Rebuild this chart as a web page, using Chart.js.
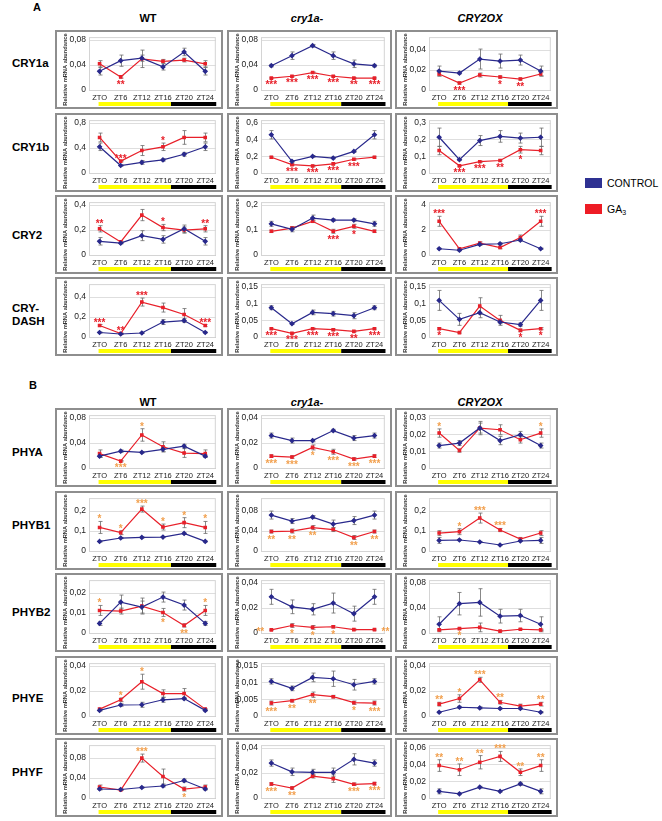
<!DOCTYPE html>
<html>
<head>
<meta charset="utf-8">
<script src="https://cdn.jsdelivr.net/npm/chart.js@4.4.0/dist/chart.umd.min.js"></script>
<style>
  body { margin: 0; background: #fff; font-family: "Liberation Sans", Arial, sans-serif; }
  #fig { position: relative; width: 662px; height: 821px; overflow: hidden; }
  .t { position: absolute; font-weight: bold; color: #000; white-space: nowrap; line-height: 1; }
  .box { position: absolute; border: 2px solid #8e8e8e; box-sizing: border-box; background: #fff; }
  .box canvas { position: absolute; left: 0; top: 0; }
  .sq { position: absolute; width: 17px; height: 10px; }
</style>
</head>
<body>
<div id="fig"></div>
<script>
const zt = ['ZTO', 'ZT6', 'ZT12', 'ZT16', 'ZT20', 'ZT24'];
const genotypes = ['WT', 'cry1a-', 'CRY2OX'];

// each array below: [WT, cry1a-, CRY2OX]
const cry1aMax = [0.08, 0.08, 0.05];
const cry1aStep = [0.02, 0.02, 0.01];
const cry1aControl = [[0.03, 0.047, 0.051, 0.037, 0.061, 0.03], [0.039, 0.055, 0.071, 0.055, 0.042, 0.039], [0.019, 0.017, 0.031, 0.029, 0.03, 0.019]];
const cry1aControlErr = [[0.006, 0.009, 0.005, 0.005, 0.006, 0.006], [0.002, 0.006, 0.002, 0.006, 0.006, 0.002], [0.005, 0.001, 0.01, 0.007, 0.005, 0.005]];
const cry1aGa3 = [[0.042, 0.021, 0.05, 0.046, 0.048, 0.042], [0.019, 0.022, 0.028, 0.022, 0.019, 0.019], [0.016, 0.007, 0.015, 0.013, 0.011, 0.016]];
const cry1aGa3Err = [[0.005, 0.002, 0.014, 0.003, 0.003, 0.005], [0.001, 0.001, 0.001, 0.001, 0.001, 0.001], [0.002, 0.001, 0.002, 0.001, 0.001, 0.002]];
const cry1aStars = [['', 'v**', '', '', '', ''], ['v***', 'v***', 'v***', 'v***', 'v**', 'v***'], ['', 'v***', '', 'v*', 'v**', '']];

const cry1bMax = [0.8, 0.6, 0.3];
const cry1bStep = [0.2, 0.2, 0.1];
const cry1bControl = [[0.42, 0.12, 0.17, 0.21, 0.3, 0.42], [0.46, 0.14, 0.2, 0.18, 0.26, 0.46], [0.215, 0.08, 0.195, 0.22, 0.21, 0.215]];
const cry1bControlErr = [[0.06, 0.01, 0.03, 0.02, 0.03, 0.06], [0.05, 0.01, 0.01, 0.01, 0.01, 0.05], [0.055, 0.005, 0.03, 0.035, 0.03, 0.055]];
const cry1bGa3 = [[0.57, 0.19, 0.36, 0.42, 0.57, 0.57], [0.19, 0.1, 0.085, 0.11, 0.165, 0.19], [0.135, 0.043, 0.068, 0.075, 0.14, 0.135]];
const cry1bGa3Err = [[0.07, 0.01, 0.08, 0.06, 0.11, 0.07], [0.01, 0.01, 0.01, 0.01, 0.01, 0.01], [0.025, 0.004, 0.004, 0.004, 0.02, 0.025]];
const cry1bStars = [['', '^***', '', '^*', '', ''], ['', 'v***', 'v***', 'v***', 'v***', ''], ['', 'v***', 'v***', 'v**', 'v*', '']];

const cry2Max = [0.4, 0.2, 4];
const cry2Step = [0.1, 0.05, 1];
const cry2Control = [[0.11, 0.095, 0.155, 0.125, 0.21, 0.11], [0.125, 0.103, 0.148, 0.14, 0.14, 0.125], [0.5, 0.38, 0.85, 0.9, 1.2, 0.5]];
const cry2ControlErr = [[0.03, 0.005, 0.04, 0.03, 0.03, 0.03], [0.01, 0.01, 0.012, 0.005, 0.005, 0.01], [0.05, 0.05, 0.08, 0.08, 0.1, 0.05]];
const cry2Ga3 = [[0.21, 0.105, 0.32, 0.22, 0.2, 0.21], [0.095, 0.108, 0.135, 0.095, 0.115, 0.095], [2.7, 0.5, 0.95, 0.6, 1.4, 2.7]];
const cry2Ga3Err = [[0.025, 0.005, 0.045, 0.025, 0.025, 0.025], [0.005, 0.005, 0.005, 0.008, 0.008, 0.005], [0.4, 0.05, 0.1, 0.1, 0.2, 0.4]];
const cry2Stars = [['^**', '', '', '^*', '', '^**'], ['', '', '', 'v***', 'v*', ''], ['^***', '', '', '', '', '^***']];

const crydashMax = [0.5, 0.15, 0.15];
const crydashStep = [0.1, 0.05, 0.05];
const crydashControl = [[0.045, 0.03, 0.04, 0.15, 0.165, 0.045], [0.088, 0.04, 0.074, 0.07, 0.064, 0.088], [0.11, 0.053, 0.073, 0.045, 0.037, 0.11]];
const crydashControlErr = [[0.005, 0.005, 0.005, 0.025, 0.02, 0.005], [0.006, 0.002, 0.007, 0.007, 0.009, 0.006], [0.03, 0.018, 0.015, 0.005, 0.005, 0.03]];
const crydashGa3 = [[0.115, 0.035, 0.35, 0.295, 0.225, 0.115], [0.025, 0.011, 0.025, 0.022, 0.017, 0.025], [0.025, 0.013, 0.093, 0.05, 0.02, 0.025]];
const crydashGa3Err = [[0.01, 0.005, 0.04, 0.045, 0.06, 0.01], [0.002, 0.001, 0.002, 0.003, 0.002, 0.002], [0.003, 0.002, 0.025, 0.015, 0.004, 0.003]];
const crydashStars = [['^***', '^**', '^***', '', '', '^***'], ['v***', 'v***', 'v***', 'v***', 'v**', 'v***'], ['v*', '', '', '', 'v*', 'v*']];

const phyaMax = [0.08, 0.04, 0.03];
const phyaStep = [0.02, 0.01, 0.01];
const phyaControl = [[0.019, 0.027, 0.025, 0.03, 0.035, 0.019], [0.026, 0.022, 0.022, 0.03, 0.024, 0.026], [0.0135, 0.015, 0.024, 0.0165, 0.02, 0.0135]];
const phyaControlErr = [[0.002, 0.002, 0.001, 0.004, 0.003, 0.002], [0.002, 0.002, 0.001, 0.001, 0.002, 0.002], [0.0015, 0.0015, 0.004, 0.0025, 0.002, 0.0015]];
const phyaGa3 = [[0.023, 0.011, 0.053, 0.034, 0.024, 0.023], [0.0095, 0.0088, 0.0165, 0.013, 0.0072, 0.0095], [0.021, 0.0105, 0.024, 0.023, 0.017, 0.021]];
const phyaGa3Err = [[0.006, 0.001, 0.01, 0.008, 0.007, 0.006], [0.001, 0.001, 0.002, 0.002, 0.001, 0.001], [0.0025, 0.001, 0.003, 0.003, 0.002, 0.0025]];
const phyaStars = [['', 'v***', '^*', '', '', ''], ['v***', 'v***', 'v*', 'v***', 'v***', 'v***'], ['^*', '', '', '', '', '^*']];

const phyb1Max = [0.25, 0.1, 0.25];
const phyb1Step = [0.05, 0.02, 0.05];
const phyb1Control = [[0.048, 0.065, 0.068, 0.07, 0.088, 0.048], [0.072, 0.06, 0.068, 0.054, 0.061, 0.072], [0.053, 0.055, 0.045, 0.03, 0.05, 0.053]];
const phyb1ControlErr = [[0.003, 0.003, 0.003, 0.003, 0.003, 0.003], [0.008, 0.005, 0.003, 0.008, 0.008, 0.008], [0.015, 0.003, 0.003, 0.003, 0.003, 0.015]];
const phyb1Ga3 = [[0.118, 0.092, 0.21, 0.12, 0.142, 0.118], [0.039, 0.04, 0.047, 0.043, 0.027, 0.039], [0.09, 0.097, 0.165, 0.105, 0.06, 0.09]];
const phyb1Ga3Err = [[0.03, 0.01, 0.015, 0.015, 0.025, 0.03], [0.003, 0.004, 0.004, 0.004, 0.004, 0.003], [0.012, 0.015, 0.025, 0.008, 0.008, 0.012]];
const phyb1Stars = [['^*', '^*', '^***', '^*', '^*', '^*'], ['v**', 'v**', 'v**', '', 'v**', 'v**'], ['', '^*', '^***', '^***', '', '']];

const phyb2Max = [0.025, 0.04, 0.08];
const phyb2Step = [0.005, 0.01, 0.02];
const phyb2Control = [[0.0048, 0.0155, 0.013, 0.018, 0.014, 0.0048], [0.029, 0.021, 0.019, 0.024, 0.0155, 0.029], [0.014, 0.047, 0.049, 0.027, 0.028, 0.014]];
const phyb2ControlErr = [[0.001, 0.0035, 0.003, 0.0025, 0.0025, 0.001], [0.006, 0.0055, 0.0045, 0.008, 0.006, 0.006], [0.012, 0.018, 0.022, 0.011, 0.01, 0.012]];
const phyb2Ga3 = [[0.0113, 0.011, 0.0135, 0.0103, 0.0038, 0.0113], [0.0025, 0.006, 0.0045, 0.005, 0.0027, 0.0027], [0.005, 0.007, 0.009, 0.003, 0.006, 0.005]];
const phyb2Ga3Err = [[0.0025, 0.0015, 0.004, 0.002, 0.0008, 0.0025], [0.0005, 0.0015, 0.0015, 0.001, 0.0005, 0.0005], [0.001, 0.001, 0.007, 0.001, 0.001, 0.001]];
const phyb2Stars = [['^*', '', '', 'v*', 'v**', '^*'], ['l**', 'v*', 'v*', 'v*', '', 'r**'], ['', 'v*', '', '', '', '']];

const phyeMax = [0.04, 0.015, 0.04];
const phyeStep = [0.01, 0.005, 0.01];
const phyeControl = [[0.0045, 0.0088, 0.009, 0.013, 0.014, 0.0045], [0.0104, 0.0083, 0.0116, 0.0112, 0.0094, 0.0104], [0.003, 0.007, 0.0065, 0.006, 0.006, 0.003]];
const phyeControlErr = [[0.0005, 0.001, 0.002, 0.002, 0.001, 0.0005], [0.0008, 0.0007, 0.0013, 0.0023, 0.0016, 0.0008], [0.0005, 0.0008, 0.0008, 0.0005, 0.0005, 0.0005]];
const phyeGa3 = [[0.0055, 0.013, 0.0275, 0.018, 0.018, 0.0055], [0.0039, 0.0046, 0.0064, 0.0058, 0.004, 0.0039], [0.0095, 0.014, 0.029, 0.011, 0.008, 0.0095]];
const phyeGa3Err = [[0.0005, 0.0015, 0.006, 0.003, 0.004, 0.0005], [0.0006, 0.0004, 0.0008, 0.0004, 0.0005, 0.0006], [0.0015, 0.003, 0.002, 0.0015, 0.0015, 0.0015]];
const phyeStars = [['', '^*', '^*', '', '', ''], ['v***', 'v**', 'v**', '', 'v*', 'v***'], ['^**', '^*', '^***', '^**', '', '^**']];

const phyfMax = [0.1, 0.04, 0.06];
const phyfStep = [0.02, 0.01, 0.02];
const phyfControl = [[0.018, 0.017, 0.021, 0.024, 0.035, 0.018], [0.028, 0.021, 0.0205, 0.0205, 0.031, 0.028], [0.008, 0.005, 0.013, 0.008, 0.017, 0.008]];
const phyfControlErr = [[0.002, 0.001, 0.001, 0.002, 0.003, 0.002], [0.0025, 0.003, 0.0025, 0.0035, 0.0045, 0.0025], [0.003, 0.001, 0.001, 0.001, 0.002, 0.003]];
const phyfGa3 = [[0.022, 0.016, 0.08, 0.043, 0.018, 0.022], [0.0112, 0.008, 0.0175, 0.0155, 0.011, 0.0115], [0.039, 0.034, 0.043, 0.05, 0.031, 0.039]];
const phyfGa3Err = [[0.004, 0.001, 0.008, 0.015, 0.004, 0.004], [0.001, 0.001, 0.0015, 0.003, 0.001, 0.001], [0.007, 0.007, 0.008, 0.006, 0.004, 0.007]];
const phyfStars = [['', '', '^***', '', 'v*', ''], ['v***', 'v**', '', '', 'v***', 'v***'], ['^**', '^**', '^**', '^***', '^**', '^**']];

const BLUE = '#29298c';
const RED = '#e8202a';
const ORANGE = '#f2a04e';
const FONT = '"Liberation Sans", Arial, sans-serif';

const colX = [55, 227, 395];
const colW = [168, 165, 163];
const boxH = 79;

const genes = [
  { label: ['CRY1a'], labelY: 63, y: 30, max: cry1aMax, step: cry1aStep, c: cry1aControl, ce: cry1aControlErr, g: cry1aGa3, ge: cry1aGa3Err, s: cry1aStars, star: RED },
  { label: ['CRY1b'], labelY: 147, y: 113, max: cry1bMax, step: cry1bStep, c: cry1bControl, ce: cry1bControlErr, g: cry1bGa3, ge: cry1bGa3Err, s: cry1bStars, star: RED },
  { label: ['CRY2'], labelY: 235, y: 195, max: cry2Max, step: cry2Step, c: cry2Control, ce: cry2ControlErr, g: cry2Ga3, ge: cry2Ga3Err, s: cry2Stars, star: RED },
  { label: ['CRY-', 'DASH'], labelY: 315, y: 277, max: crydashMax, step: crydashStep, c: crydashControl, ce: crydashControlErr, g: crydashGa3, ge: crydashGa3Err, s: crydashStars, star: RED },
  { label: ['PHYA'], labelY: 452, y: 408, max: phyaMax, step: phyaStep, c: phyaControl, ce: phyaControlErr, g: phyaGa3, ge: phyaGa3Err, s: phyaStars, star: ORANGE },
  { label: ['PHYB1'], labelY: 525, y: 491, max: phyb1Max, step: phyb1Step, c: phyb1Control, ce: phyb1ControlErr, g: phyb1Ga3, ge: phyb1Ga3Err, s: phyb1Stars, star: ORANGE },
  { label: ['PHYB2'], labelY: 612, y: 573, max: phyb2Max, step: phyb2Step, c: phyb2Control, ce: phyb2ControlErr, g: phyb2Ga3, ge: phyb2Ga3Err, s: phyb2Stars, star: ORANGE },
  { label: ['PHYE'], labelY: 698, y: 656, max: phyeMax, step: phyeStep, c: phyeControl, ce: phyeControlErr, g: phyeGa3, ge: phyeGa3Err, s: phyeStars, star: ORANGE },
  { label: ['PHYF'], labelY: 772, y: 738, max: phyfMax, step: phyfStep, c: phyfControl, ce: phyfControlErr, g: phyfGa3, ge: phyfGa3Err, s: phyfStars, star: ORANGE },
];

const fig = document.getElementById('fig');

function text(str, left, top, size, extra) {
  const d = document.createElement('div');
  d.className = 't';
  d.innerHTML = str;
  d.style.left = left + 'px';
  d.style.top = top + 'px';
  d.style.fontSize = size + 'px';
  if (extra) Object.assign(d.style, extra);
  fig.appendChild(d);
  return d;
}

function fmt(v) {
  return String(+v.toFixed(4)).replace('.', ',');
}

// error bars, stars, light/dark bar and axis title
const extras = {
  id: 'extras',
  beforeDatasetsDraw(chart) {
    const { ctx, chartArea: a, scales: { x, y } } = chart;
    ctx.save();
    ctx.strokeStyle = '#d4d4d4';
    ctx.lineWidth = 1;
    ctx.strokeRect(a.left + 0.5, a.top - 2.5, a.right - a.left - 1, a.bottom - a.top + 3);
    ctx.strokeStyle = '#6a6a6a';
    ctx.lineWidth = 0.8;
    chart.data.datasets.forEach((ds) => {
      ds.data.forEach((v, i) => {
        const e = ds.err[i];
        if (!e) return;
        const px = Math.round(x.getPixelForValue(i)) + 0.5;
        const y1 = y.getPixelForValue(v + e);
        const y2 = y.getPixelForValue(Math.max(0, v - e));
        ctx.beginPath();
        ctx.moveTo(px, y1); ctx.lineTo(px, y2);
        ctx.moveTo(px - 2, y1); ctx.lineTo(px + 2, y1);
        ctx.moveTo(px - 2, y2); ctx.lineTo(px + 2, y2);
        ctx.stroke();
      });
    });
    ctx.restore();
  },
  afterDatasetsDraw(chart, args, opts) {
    const { ctx, scales: { x, y } } = chart;
    const ga = chart.data.datasets[1];
    ctx.save();
    ctx.fillStyle = opts.starColor;
    ctx.font = 'bold 10px ' + FONT;
    ctx.textAlign = 'center';
    ctx.textBaseline = 'alphabetic';
    opts.stars.forEach((s, i) => {
      if (!s) return;
      const pos = s[0];
      const str = s.slice(1);
      const v = ga.data[i];
      const e = ga.err[i];
      const px = x.getPixelForValue(i);
      if (pos === '^') ctx.fillText(str, px, y.getPixelForValue(v + e) + 1);
      else if (pos === 'v') ctx.fillText(str, px, y.getPixelForValue(Math.max(0, v - e)) + 9.5);
      else if (pos === 'l') ctx.fillText(str, px - 11, y.getPixelForValue(v) + 5);
      else ctx.fillText(str, px + 11, y.getPixelForValue(v) + 5);
    });

    // light / dark bar under the time axis
    const h = chart.height;
    const w = chart.width;
    const x0 = x.getPixelForValue(0) - 1;
    const x1 = x.getPixelForValue(3) + 8;
    const x2 = Math.min(x.getPixelForValue(5) + 11, w - 1);
    ctx.fillStyle = '#ffff00';
    ctx.fillRect(x0, h - 5, x1 - x0, 4);
    ctx.fillStyle = '#000';
    ctx.fillRect(x1, h - 5, x2 - x1, 4);

    ctx.translate(8, h / 2);
    ctx.rotate(-Math.PI / 2);
    ctx.fillStyle = '#333';
    ctx.font = 'bold 5.7px ' + FONT;
    ctx.textBaseline = 'middle';
    ctx.fillText('Relative mRNA abundance', 0, 0);
    ctx.restore();
  },
};

function panel(gene, col) {
  const box = document.createElement('div');
  box.className = 'box';
  box.style.left = colX[col] + 'px';
  box.style.top = gene.y + 'px';
  box.style.width = colW[col] + 'px';
  box.style.height = boxH + 'px';
  const cv = document.createElement('canvas');
  const cw = colW[col] - 4;
  const ch = boxH - 4;
  cv.width = cw; cv.height = ch;
  cv.style.width = cw + 'px'; cv.style.height = ch + 'px';
  box.appendChild(cv);
  fig.appendChild(box);

  new Chart(cv, {
    type: 'line',
    data: {
      labels: zt,
      datasets: [
        { data: gene.c[col], err: gene.ce[col], borderColor: BLUE, backgroundColor: BLUE, borderWidth: 1.2, pointRadius: 2, pointStyle: 'rectRot', tension: 0 },
        { data: gene.g[col], err: gene.ge[col], borderColor: RED, backgroundColor: RED, borderWidth: 1.2, pointRadius: 1.7, pointStyle: 'rect', tension: 0 },
      ],
    },
    options: {
      responsive: false,
      animation: false,
      devicePixelRatio: 1,
      layout: { padding: { top: 4, right: 3, left: 0, bottom: 0 } },
      plugins: {
        legend: { display: false },
        tooltip: { enabled: false },
        extras: { stars: gene.s[col], starColor: gene.star },
      },
      scales: {
        x: {
          offset: true,
          grid: { display: false, drawTicks: false },
          border: { color: '#bdbdbd' },
          ticks: { font: { size: 7.5, family: FONT }, color: '#222', padding: 3, autoSkip: false, maxRotation: 0, minRotation: 0 },
          afterFit(s) { s.height = 17; },
        },
        y: {
          min: 0,
          max: gene.max[col],
          grid: { color: '#dedede', drawTicks: false },
          border: { display: false },
          ticks: { stepSize: gene.step[col], font: { size: 8.5, family: FONT }, color: '#222', padding: 3, callback: (v) => fmt(v) },
          afterFit(s) { s.width = 32; },
        },
      },
    },
    plugins: [extras],
  });
}

// section letters and column headers
text('A', 33, 2, 11);
text('B', 29, 380, 11);
const headerX = [148, 307, 480];
[13, 397].forEach((ty) => {
  genotypes.forEach((g, i) => {
    text(g, headerX[i], ty, 11, { transform: 'translateX(-50%)', fontStyle: i === 0 ? 'normal' : 'italic' });
  });
});

genes.forEach((gene) => {
  const lines = gene.label;
  const lh = 13;
  lines.forEach((ln, k) => {
    text(ln, 12, gene.labelY - (lines.length * lh) / 2 + k * lh + 1, 11.5);
  });
  for (let col = 0; col < 3; col++) panel(gene, col);
});

// legend
const sq1 = document.createElement('div');
sq1.className = 'sq';
Object.assign(sq1.style, { left: '585px', top: '178px', background: '#2e3192' });
fig.appendChild(sq1);
const sq2 = document.createElement('div');
sq2.className = 'sq';
Object.assign(sq2.style, { left: '585px', top: '204px', background: '#ee1c25' });
fig.appendChild(sq2);
text('CONTROL', 607, 178, 10.5, { fontWeight: 'normal' });
text('GA<sub style="font-size:7px;vertical-align:-2px">3</sub>', 607, 204, 10.5, { fontWeight: 'normal' });
</script>
</body>
</html>
